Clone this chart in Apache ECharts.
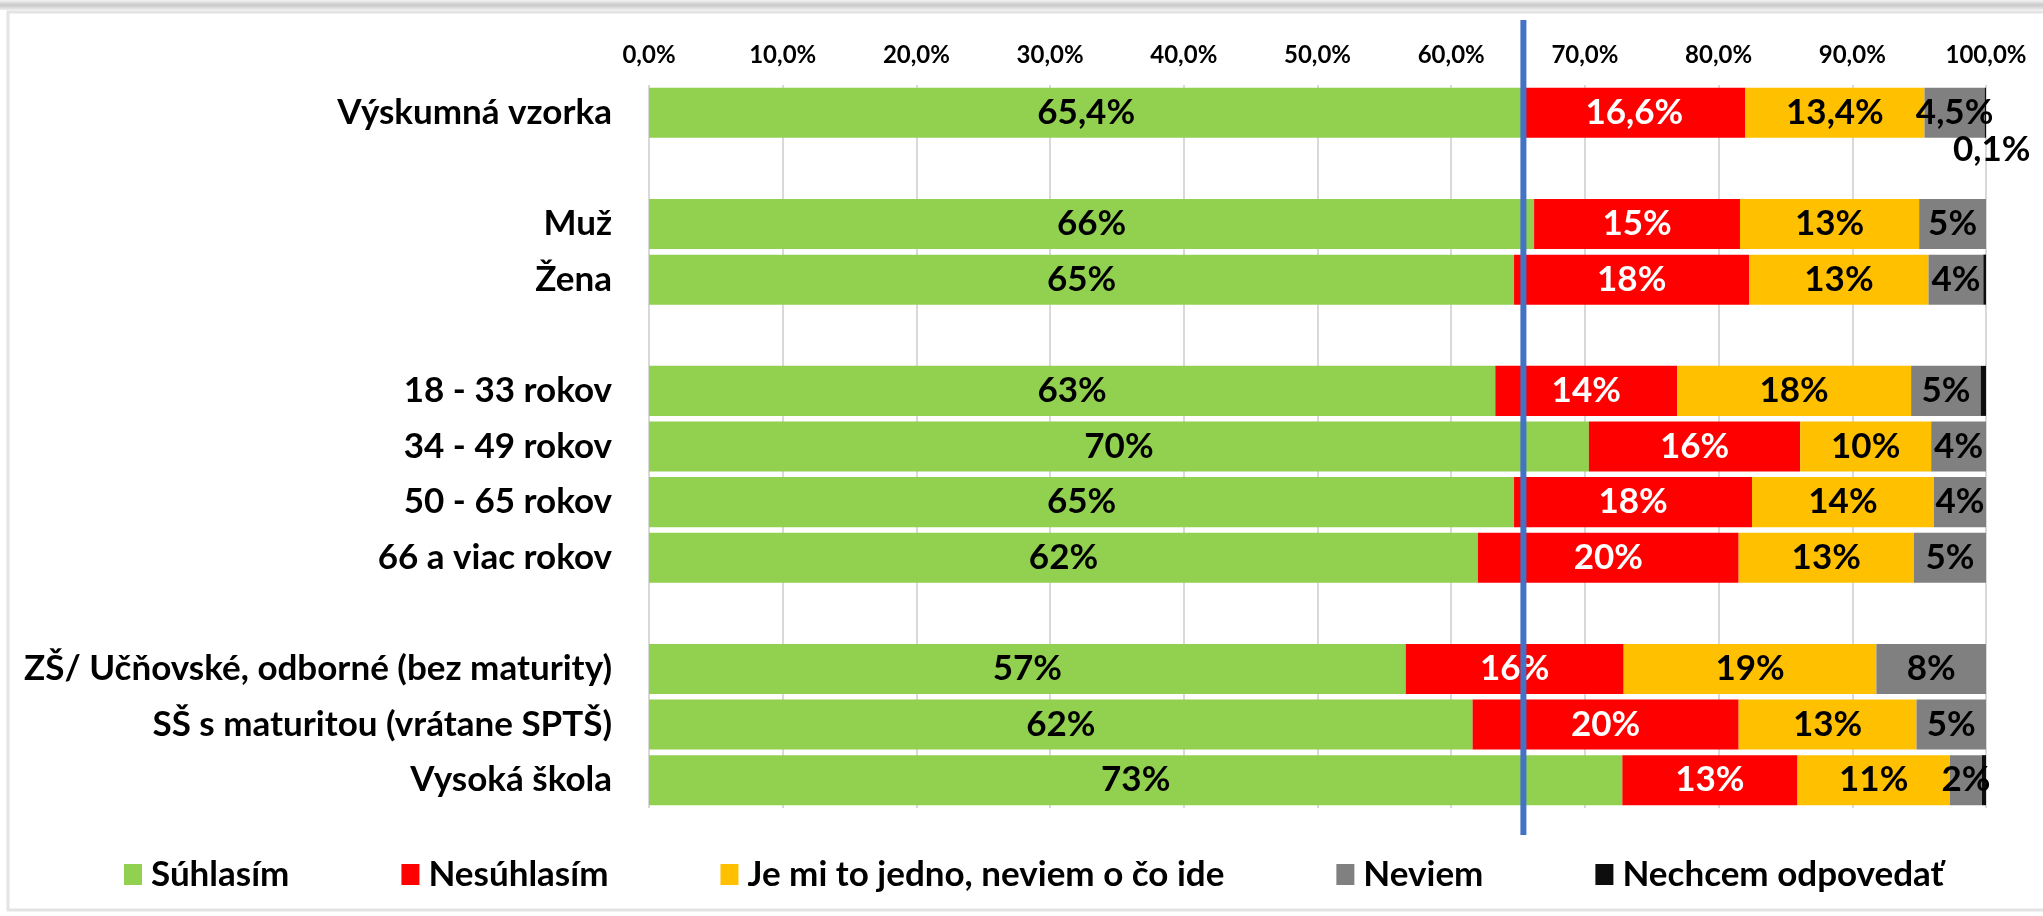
<!DOCTYPE html>
<html>
<head>
<meta charset="utf-8">
<script src="https://cdn.jsdelivr.net/npm/echarts@6/dist/echarts.min.js"></script>
<style>
  html, body { margin: 0; padding: 0; background: #fff; }
  #chart { width: 2043px; height: 916px; }
</style>
</head>
<body>
<div id="chart"></div>
<script>
// kategórie (prázdne riadky = medzery medzi skupinami)
var categories = ['Výskumná vzorka', ' ', 'Muž', 'Žena', '  ', '18 - 33 rokov', '34 - 49 rokov', '50 - 65 rokov', '66 a viac rokov', '   ', 'ZŠ/ Učňovské, odborné (bez maturity)', 'SŠ s maturitou (vrátane SPTŠ)', 'Vysoká škola'];
var seriesNames = ['Súhlasím', 'Nesúhlasím', 'Je mi to jedno, neviem o čo ide', 'Neviem', 'Nechcem odpovedať'];
var suhlasim   = [65.4, null, 66.2, 64.7, null, 63.3, 70.3, 64.7, 62.0, null, 56.6, 61.6, 72.8];
var nesuhlasim = [16.6, null, 15.4, 17.6, null, 13.6, 15.8, 17.8, 19.5, null, 16.3, 19.9, 13.1];
var jedno      = [13.4, null, 13.4, 13.4, null, 17.5,  9.8, 13.6, 13.1, null, 18.9, 13.3, 11.4];
var neviem     = [ 4.5, null,  5.0,  4.1, null,  5.2,  4.1,  3.9,  5.4, null,  8.2,  5.2,  2.4];
var nechcem    = [ 0.1, null,  0,    0.2, null,  0.4,  0,    0,    0,   null,  0,    0,    0.3];
var xTicks = [0, 10, 20, 30, 40, 50, 60, 70, 80, 90, 100];
var refLine = 65.4; // modrá čiara = celá vzorka

var colors = ['#92d050', '#ff0000', '#ffc000', '#808080', '#0d0d0d'];
var labelColors = ['#000', '#fff', '#000', '#000', '#000'];
var fontFam = 'Lato, "Open Sans", sans-serif';

var chart = echarts.init(document.getElementById('chart'));

function fmt(v, idx) {
  if (idx === 0) return v.toFixed(1).replace('.', ',') + '%';
  return Math.round(v) + '%';
}

var allData = [suhlasim, nesuhlasim, jedno, neviem, nechcem];
var series = [];
for (var s = 0; s < allData.length; s++) {
  (function (s) {
    var data = allData[s].map(function (v, i) {
      if (v === null) return '-';
      if (s === 4) {
        // len prvý riadok má popis pre "Nechcem odpovedať"
        return {
          value: v,
          label: i === 0 ? {
            show: true, position: 'right', offset: [-38, 37], color: '#000'
          } : { show: false }
        };
      }
      return v;
    });
    series.push({
      name: seriesNames[s],
      type: 'bar',
      stack: 'a',
      barCategoryGap: '10%',
      itemStyle: { color: colors[s] },
      label: {
        show: true,
        position: 'inside',
        color: labelColors[s],
        fontFamily: fontFam,
        fontWeight: 'bold',
        fontSize: 35,
        formatter: function (p) { return fmt(p.value, p.dataIndex); }
      },
      emphasis: { disabled: true },
      data: data
    });
  })(s);
}

var option = {
  animation: false,
  backgroundColor: '#fff',
  textStyle: { fontFamily: fontFam },
  grid: { left: 649, right: 57, top: 85, bottom: 108, containLabel: false },
  legend: {
    left: 124,
    top: 857,
    padding: 0,
    itemWidth: 18,
    itemHeight: 21,
    itemGap: 112,
    icon: 'rect',
    textStyle: { fontFamily: fontFam, fontWeight: 'bold', fontSize: 35, color: '#000', padding: [0, 0, 0, 4] },
    data: seriesNames
  },
  xAxis: {
    type: 'value',
    position: 'top',
    min: 0,
    max: 100,
    interval: 10,
    axisLine: { show: false },
    axisTick: { show: false },
    splitLine: { show: true, lineStyle: { color: '#d9d9d9', width: 2 } },
    axisLabel: {
      margin: 18,
      color: '#000',
      fontFamily: fontFam,
      fontWeight: 'bold',
      fontSize: 24,
      formatter: function (v) { return xTicks.indexOf(v) >= 0 ? v.toFixed(1).replace('.', ',') + '%' : ''; }
    }
  },
  yAxis: {
    type: 'category',
    inverse: true,
    data: categories,
    axisLine: { show: false },
    axisTick: { show: false },
    axisLabel: {
      margin: 37,
      color: '#000',
      fontFamily: fontFam,
      fontWeight: 'bold',
      fontSize: 35
    }
  },
  series: series
};

chart.setOption(option);

// modrá referenčná čiara + rámik grafu
var lx = chart.convertToPixel({ xAxisIndex: 0 }, refLine);
chart.setOption({
  graphic: [
    {
      type: 'rect', z: 100, silent: true,
      shape: { x: 0, y: 0, width: 2043, height: 10 },
      style: { fill: new echarts.graphic.LinearGradient(0, 0, 0, 1, [
        { offset: 0, color: '#f4f4f4' }, { offset: 0.5, color: '#c8c8c8' }, { offset: 1, color: '#eeeeee' }
      ]) }
    },
    {
      type: 'rect', z: 100, silent: true,
      shape: { x: 8, y: 12, width: 2060, height: 898 },
      style: { fill: 'none', stroke: '#e3e3e3', lineWidth: 3 }
    },
    {
      type: 'line', z: 100, silent: true,
      shape: { x1: lx, y1: 20, x2: lx, y2: 835 },
      style: { stroke: '#4472c4', lineWidth: 6 }
    }
  ]
});
</script>
</body>
</html>
